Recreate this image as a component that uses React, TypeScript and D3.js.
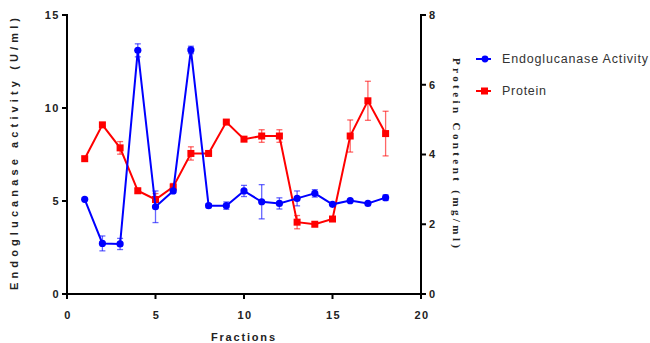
import React from 'react';
import * as d3 from 'd3';

const fractions = [1, 2, 3, 4, 5, 6, 7, 8, 9, 10, 11, 12, 13, 14, 15, 16, 17, 18];
const endoValues = [5.09, 2.72, 2.69, 13.1, 4.69, 5.54, 13.12, 4.75, 4.75, 5.54, 4.96, 4.87, 5.14, 5.41, 4.82, 5.02, 4.87, 5.18];
const endoErrors = [0, 0.4, 0.3, 0.35, 0.85, 0.1, 0.2, 0.1, 0.2, 0.3, 0.92, 0.3, 0.4, 0.2, 0.05, 0.05, 0.05, 0.15];
const proteinValues = [3.88, 4.85, 4.19, 2.96, 2.71, 3.07, 4.03, 4.03, 4.93, 4.44, 4.53, 4.53, 2.06, 2.0, 2.15, 4.53, 5.54, 4.6];
const proteinErrors = [0, 0.05, 0.18, 0.07, 0.17, 0.1, 0.19, 0, 0.05, 0, 0.18, 0.18, 0.19, 0, 0, 0.46, 0.56, 0.64];
const xTicks = [0, 5, 10, 15, 20];
const leftTicks = [0, 5, 10, 15];
const rightTicks = [0, 2, 4, 6, 8];

const BLUE = '#0000ff';
const RED = '#ff0000';
const FONT = '"Liberation Sans", Arial, sans-serif';

export default function App() {
  const x = d3.scaleLinear().domain([0, 20]).range([67, 421]);
  const yL = d3.scaleLinear().domain([0, 15]).range([294, 15]);
  const yR = d3.scaleLinear().domain([0, 8]).range([294, 15]);

  const endoLine = d3.line<number>().x((_, i) => x(fractions[i])).y((d) => yL(d));
  const protLine = d3.line<number>().x((_, i) => x(fractions[i])).y((d) => yR(d));

  const errBar = (cx: number, lo: number, hi: number, color: string, key: string) => (
    <g key={key} stroke={color} strokeOpacity={0.6} strokeWidth={1.3}>
      <line x1={cx} x2={cx} y1={lo} y2={hi} />
      <line x1={cx - 3} x2={cx + 3} y1={lo} y2={lo} />
      <line x1={cx - 3} x2={cx + 3} y1={hi} y2={hi} />
    </g>
  );

  return (
    <svg width={650} height={343} style={{ position: 'absolute', left: 0, top: 0 }} fontFamily={FONT}>
      <rect width={650} height={343} fill="#fff" />

      {/* error bars */}
      {proteinValues.map((v, i) =>
        proteinErrors[i] > 0 ? errBar(x(fractions[i]), yR(v - proteinErrors[i]), yR(v + proteinErrors[i]), RED, 'pe' + i) : null
      )}
      {endoValues.map((v, i) =>
        endoErrors[i] > 0 ? errBar(x(fractions[i]), yL(v - endoErrors[i]), yL(v + endoErrors[i]), BLUE, 'ee' + i) : null
      )}

      {/* protein */}
      <path d={protLine(proteinValues) || ''} fill="none" stroke={RED} strokeWidth={2} />
      {proteinValues.map((v, i) => (
        <rect key={'p' + i} x={x(fractions[i]) - 3.5} y={yR(v) - 3.5} width={7} height={7} fill={RED} />
      ))}

      {/* endo */}
      <path d={endoLine(endoValues) || ''} fill="none" stroke={BLUE} strokeWidth={2} />
      {endoValues.map((v, i) => (
        <circle key={'e' + i} cx={x(fractions[i])} cy={yL(v)} r={3.6} fill={BLUE} />
      ))}

      {/* axes */}
      <g stroke="#000" strokeWidth={2}>
        <line x1={67} x2={67} y1={14} y2={295} />
        <line x1={421} x2={421} y1={14} y2={295} />
        <line x1={66} x2={422} y1={294} y2={294} />
        {leftTicks.map((t) => (
          <line key={'lt' + t} x1={62} x2={67} y1={yL(t)} y2={yL(t)} />
        ))}
        {rightTicks.map((t) => (
          <line key={'rt' + t} x1={421} x2={426} y1={yR(t)} y2={yR(t)} />
        ))}
        {xTicks.map((t) => (
          <line key={'xt' + t} x1={x(t)} x2={x(t)} y1={294} y2={299} />
        ))}
      </g>

      <g fontSize={11} fontWeight="bold" fill="#222" letterSpacing={1.5}>
        {leftTicks.map((t) => (
          <text key={'ll' + t} x={60} y={yL(t)} dy="0.35em" textAnchor="end">{t}</text>
        ))}
        {rightTicks.map((t) => (
          <text key={'rl' + t} x={429} y={yR(t)} dy="0.35em">{t}</text>
        ))}
        {xTicks.map((t) => (
          <text key={'xl' + t} x={x(t) + 1} y={319} textAnchor="middle">{t}</text>
        ))}
      </g>

      {/* titles */}
      <text x={211} y={341} fontSize={11} fontWeight="bold" fill="#222" textLength={64} lengthAdjust="spacing">Fractions</text>
      <text transform="translate(18,290) rotate(-90)" fontSize={11} fontWeight="bold" fill="#222" textLength={272} lengthAdjust="spacing">
        Endoglucanase activity (U/ml)
      </text>
      <text transform="translate(453,58) rotate(90)" fontSize={11} fontWeight="bold" fill="#222"
        fontFamily='"Liberation Serif", "Times New Roman", serif' textLength={190} lengthAdjust="spacing">
        Protein Content (mg/ml)
      </text>

      {/* legend */}
      <g>
        <line x1={476} x2={491} y1={59} y2={59} stroke={BLUE} strokeWidth={2} />
        <circle cx={485} cy={59} r={3.4} fill={BLUE} />
        <line x1={476} x2={491} y1={91} y2={91} stroke={RED} strokeWidth={2} />
        <rect x={481} y={87.5} width={7} height={7} fill={RED} />
        <text x={502} y={59} dy="0.35em" fontSize={12.5} fill="#333" textLength={146} lengthAdjust="spacing">Endoglucanase Activity</text>
        <text x={502} y={91} dy="0.35em" fontSize={12.5} fill="#333" textLength={44} lengthAdjust="spacing">Protein</text>
      </g>
    </svg>
  );
}
